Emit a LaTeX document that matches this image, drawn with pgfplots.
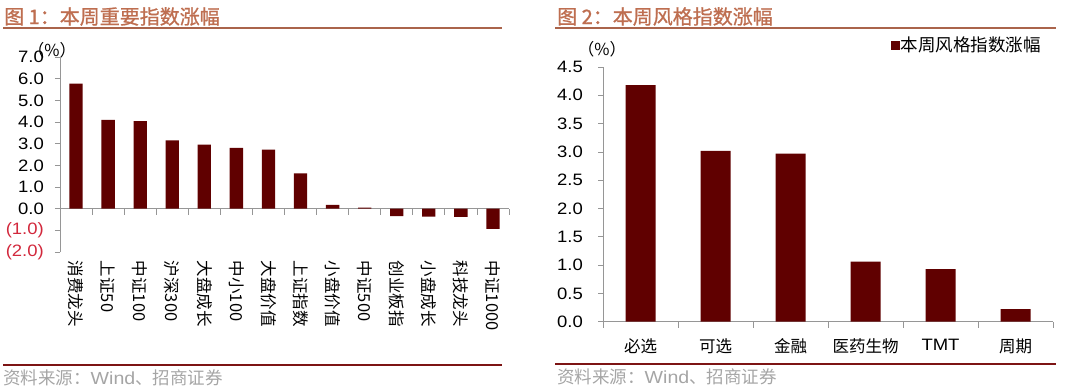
\documentclass[border=0pt]{standalone}
\usepackage{fontspec}
\setmainfont{Liberation Sans}[FakeStretch=1.12]
\newfontfamily\cjk{Noto Sans CJK SC}
\newfontfamily\cjkt{Noto Sans CJK SC}[FakeBold=1]
\usepackage{pgfplots}
\pgfplotsset{compat=1.18}
\definecolor{barc}{RGB}{96,0,0}
\definecolor{ttl}{RGB}{190,110,80}
\definecolor{ttlline}{RGB}{170,100,75}
\definecolor{botline}{RGB}{125,20,20}
\definecolor{src}{RGB}{165,165,165}
\definecolor{negred}{RGB}{210,40,60}
\definecolor{axgray}{RGB}{150,150,150}
\begin{document}
\begin{tikzpicture}
\path[use as bounding box] (0pt,0pt) rectangle (1080pt,389pt);
% ---------- left panel decorations
\node[anchor=west, text=ttl, font=\cjkt\fontsize{20}{24}\selectfont, inner sep=0] at (4pt,372.5pt) {图 1：本周重要指数涨幅};
\draw[ttlline, line width=1.5pt] (3pt,361pt) -- (502pt,361pt);
\draw[botline, line width=2.5pt] (3pt,24pt) -- (502pt,24pt);
\node[anchor=west, text=src, font=\fontsize{17.5}{20}\selectfont, inner sep=0] at (3pt,11pt) {{\cjk 资料来源：}Wind{\cjk 、招商证券}};
\node[font=\cjk\fontsize{16.5}{18}\selectfont, inner sep=0] at (52pt,339pt) {（\%）};
% ---------- right panel decorations
\node[anchor=west, text=ttl, font=\cjkt\fontsize{20}{24}\selectfont, inner sep=0] at (557pt,372.5pt) {图 2：本周风格指数涨幅};
\draw[ttlline, line width=1.5pt] (555pt,361pt) -- (1056pt,361pt);
\draw[botline, line width=2.5pt] (555pt,25pt) -- (1056pt,25pt);
\node[anchor=west, text=src, font=\fontsize{17.5}{20}\selectfont, inner sep=0] at (557pt,12pt) {{\cjk 资料来源：}Wind{\cjk 、招商证券}};
\node[font=\cjk\fontsize{16.5}{18}\selectfont, inner sep=0] at (602pt,340pt) {（\%）};

% ---------- left chart
\begin{axis}[at={(60pt,137pt)}, anchor=south west, scale only axis,
  width=449pt, height=195pt,
  xmin=-0.5, xmax=13.5, ymin=-2, ymax=7,
  axis x line*=middle, axis y line*=left,
  axis line style={axgray, line width=0.8pt},
  ytick={-2,-1,0,1,2,3,4,5,6,7},
  yticklabels={\textcolor{negred}{(2.0)},\textcolor{negred}{(1.0)},0.0,1.0,2.0,3.0,4.0,5.0,6.0,7.0},
  xtick={0,...,13},
  xticklabels={消费龙头,上证50,中证100,沪深300,大盘成长,中小100,大盘价值,上证指数,小盘价值,中证500,创业板指,小盘成长,科技龙头,中证1000},
  minor xtick={-0.5,0.5,...,13.5},
  major x tick style={draw=none},
  minor x tick style={axgray, line width=0.8pt},
  ytick style={axgray, line width=0.8pt},
  tick align=outside, major tick length=5pt, minor tick length=6pt,
  yticklabel style={font=\fontsize{16.5}{18}\selectfont, inner sep=0pt, anchor=east, xshift=-11pt},
  xticklabel style={font=\cjk\fontsize{16.5}{18}\selectfont, inner sep=0pt, yshift=-47pt, rotate=-90, anchor=west},
  clip=false,
]
\addplot[ybar, fill=barc, draw=none, bar width=0.415] coordinates {
(0,5.77) (1,4.10) (2,4.04) (3,3.15) (4,2.96) (5,2.81) (6,2.72)
(7,1.63) (8,0.18) (9,0.05) (10,-0.34) (11,-0.37) (12,-0.38) (13,-0.93)};
\end{axis}

% ---------- right chart
\begin{axis}[at={(603pt,67.3pt)}, anchor=south west, scale only axis,
  width=450pt, height=254.7pt,
  xmin=-0.5, xmax=5.5, ymin=0, ymax=4.5,
  axis x line*=bottom, axis y line*=left,
  axis line style={axgray, line width=0.8pt},
  ytick={0,0.5,1,1.5,2,2.5,3,3.5,4,4.5},
  yticklabels={0.0,0.5,1.0,1.5,2.0,2.5,3.0,3.5,4.0,4.5},
  xtick={0,...,5},
  xticklabels={{\cjk 必选},{\cjk 可选},{\cjk 金融},{\cjk 医药生物},TMT,{\cjk 周期}},
  minor xtick={-0.5,0.5,...,5.5},
  major x tick style={draw=none},
  minor x tick style={axgray, line width=0.8pt},
  ytick style={axgray, line width=0.8pt},
  tick align=outside, major tick length=5pt, minor tick length=6pt,
  yticklabel style={font=\fontsize{16.5}{18}\selectfont, inner sep=0pt, anchor=east, xshift=-15pt},
  xticklabel style={font=\fontsize{16.5}{18}\selectfont, inner sep=0pt, anchor=north, yshift=-12pt},
  legend style={draw=none, fill=none, font=\cjk\fontsize{17.5}{20}\selectfont,
    at={(axis description cs:0.975,1.086)}, anchor=east, inner sep=0pt,
    nodes={inner sep=1pt}},
  clip=false,
]
\addplot[ybar, fill=barc, draw=none, bar width=0.4,
  legend image code/.code={\fill[barc] (0pt,-4.5pt) rectangle (9pt,4.5pt);}] coordinates {
(0,4.18) (1,3.02) (2,2.97) (3,1.06) (4,0.93) (5,0.22)};
\addlegendentry{本周风格指数涨幅}
\end{axis}
\end{tikzpicture}
\end{document}
